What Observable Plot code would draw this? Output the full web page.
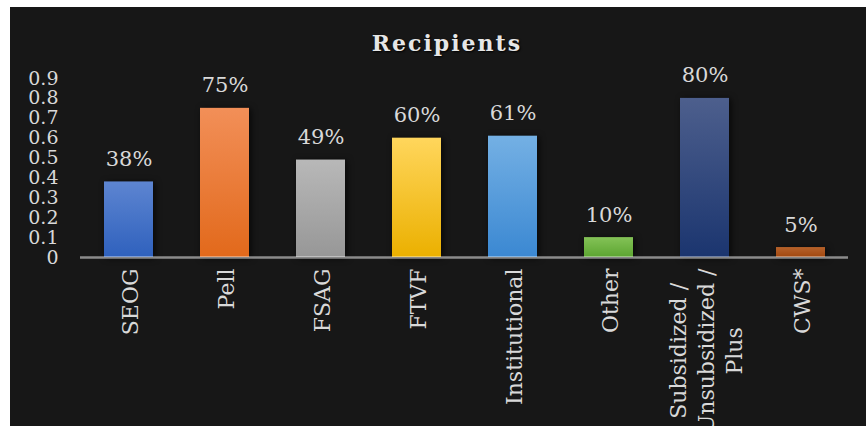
<!DOCTYPE html>
<html>
<head>
<meta charset="utf-8">
<script src="https://cdn.jsdelivr.net/npm/d3@7"></script>
<script src="https://cdn.jsdelivr.net/npm/@observablehq/plot@0.6"></script>
<style>
  html, body { margin: 0; padding: 0; background: #ffffff; width: 867px; height: 426px; overflow: hidden; }
  #chart { position: absolute; left: 10px; top: 7px; width: 856px; height: 419px; background: #171717; overflow: hidden; }
  #title { height: 32px; padding-top: 24px; padding-left: 18px; line-height: 24px; text-align: center;
           font-family: "DejaVu Serif", serif; font-weight: bold; font-size: 22px; letter-spacing: 2px;
           color: #e6e6e6; text-shadow: 1px 1px 2px #000; }
  #plot svg { display: block; }
</style>
</head>
<body>
<div id="chart">
  <div id="title">Recipients</div>
  <div id="plot"></div>
</div>
<script>
const categories = ["SEOG", "Pell", "FSAG", "FTVF", "Institutional", "Other", "Subsidized / Unsubsidized / Plus", "CWS*"];
const xLabels = ["SEOG", "Pell", "FSAG", "FTVF", "Institutional", "Other", "Subsidized /\nUnsubsidized /\nPlus", "CWS*"];
const values = [0.38, 0.75, 0.49, 0.60, 0.61, 0.10, 0.80, 0.05];
const yTicks = [0, 0.1, 0.2, 0.3, 0.4, 0.5, 0.6, 0.7, 0.8, 0.9];
const colorsTop = ["#5d85d1", "#f28f58", "#b8b8b8", "#ffd65c", "#74b0e4", "#84c257", "#4d5f8d", "#b6622b"];
const colorsBottom = ["#2f61bd", "#e2691b", "#979797", "#ebb000", "#3b88d2", "#5ca531", "#1b356f", "#a2480f"];

const data = categories.map((c, i) => ({cat: c, label: xLabels[i], value: values[i], idx: i}));

const plot = Plot.plot({
  width: 856,
  height: 363,
  marginTop: 15,
  marginBottom: 169,
  marginLeft: 70,
  marginRight: 18,
  style: {background: "transparent", color: "#d9d9d9", fontFamily: "DejaVu Serif, serif", fontSize: "19px"},
  x: {domain: categories, paddingInner: 0.49, paddingOuter: 0.245, axis: null},
  y: {domain: [0, 0.9], ticks: yTicks, tickFormat: d3.format("~g"), tickSize: 0, tickPadding: 22, label: null},
  color: {type: "identity"},
  marks: [
    Plot.barY(data, {x: "cat", y: "value", fill: d => `url(#grad${d.idx})`}),
    Plot.ruleY([0], {stroke: "#ffffff", strokeOpacity: 0.5, strokeWidth: 2.5}),
    Plot.text(data, {x: "cat", y: "value", text: d => d3.format(".0%")(d.value), lineAnchor: "bottom", dy: -16, fontSize: 21, fill: "#d9d9d9"}),
    Plot.text(data, {x: "cat", frameAnchor: "bottom", text: "label", dy: 11, rotate: -90, textAnchor: "end", lineAnchor: "middle", lineHeight: 1.27, fontSize: 22, fill: "#d9d9d9"})
  ]
});

document.getElementById("plot").appendChild(plot);

// gradients
const svg = d3.select(plot);
const defs = svg.insert("defs", ":first-child");
categories.forEach((c, i) => {
  const g = defs.append("linearGradient").attr("id", `grad${i}`).attr("x1", 0).attr("y1", 0).attr("x2", 0).attr("y2", 1);
  g.append("stop").attr("offset", "0%").attr("stop-color", colorsTop[i]);
  g.append("stop").attr("offset", "100%").attr("stop-color", colorsBottom[i]);
});
svg.selectAll('g[aria-label="bar"]').style("filter", "drop-shadow(2px 1px 3px rgba(0,0,0,0.7))");

// center lines within multi-line labels
plot.querySelectorAll("text").forEach(t => {
  const spans = t.querySelectorAll("tspan");
  if (spans.length > 1) {
    const lens = Array.from(spans).map(s => s.getComputedTextLength());
    const max = Math.max(...lens);
    spans.forEach((s, k) => s.setAttribute("x", -(max - lens[k]) / 2));
  }
});
</script>
</body>
</html>
